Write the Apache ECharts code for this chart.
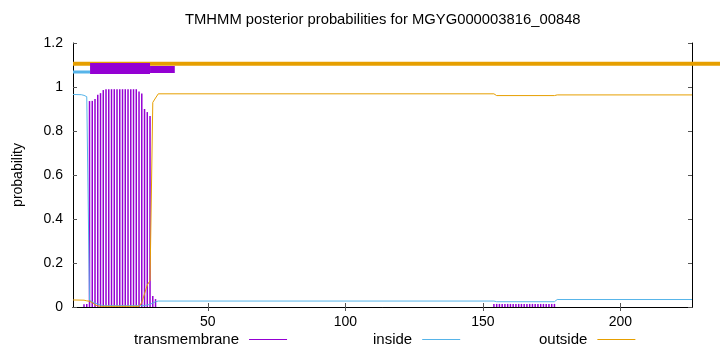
<!doctype html>
<html>
<head>
<meta charset="UTF-8">
<title>TMHMM posterior probabilities for MGYG000003816_00848</title>
<script src="https://cdn.jsdelivr.net/npm/echarts@6/dist/echarts.min.js"></script>
<style>
    html, body {margin: 0; padding: 0; background: #fff;}
    #main {width: 720px; height: 352px;}
</style>
</head>
<body>
<div id="main"></div>
<script type="text/javascript">
    // transmembrane posterior, one impulse per residue (near-zero ones left out)
    var tmResidue = [5, 6, 7, 8, 9, 10, 11, 12, 13, 14, 15, 16, 17, 18, 19, 20, 21, 22, 23, 24,
        25, 26, 27, 28, 29, 30, 31,
        154, 155, 156, 157, 158, 159, 160, 161, 162, 163, 164, 165, 166, 167, 168, 169, 170,
        171, 172, 173, 174, 175, 176];
    var tmProb = [0.012, 0.014, 0.936, 0.937, 0.946, 0.965, 0.972, 0.986, 0.99, 0.99, 0.99, 0.99,
        0.99, 0.99, 0.99, 0.99, 0.99, 0.99, 0.99, 0.99,
        0.98, 0.97, 0.90, 0.886, 0.868, 0.05, 0.036,
        0.014, 0.014, 0.014, 0.014, 0.014, 0.014, 0.014, 0.014, 0.014, 0.014, 0.014, 0.014, 0.014,
        0.014, 0.014, 0.014, 0.014, 0.014, 0.014, 0.014, 0.014, 0.014, 0.014];

    // inside / outside curves (break points of the drawn polyline)
    var insideRes = [1, 4, 5, 6, 7, 8, 9, 10, 11, 12, 26, 27, 28, 29, 30, 31, 32, 154, 155, 176, 177, 226];
    var insideProb = [0.966, 0.965, 0.962, 0.956, 0.03, 0.024, 0.018, 0.013, 0.009, 0.006, 0.006,
        0.007, 0.009, 0.012, 0.018, 0.024, 0.027, 0.027, 0.024, 0.024, 0.034, 0.034];
    var outsideRes = [1, 5, 6, 7, 8, 9, 10, 11, 25, 26, 27, 28, 29, 30, 31, 32, 154, 155, 176, 177, 226];
    var outsideProb = [0.032, 0.031, 0.028, 0.026, 0.02, 0.01, 0.005, 0.003, 0.003, 0.02, 0.06,
        0.1, 0.12, 0.93, 0.95, 0.969, 0.969, 0.961, 0.961, 0.964, 0.964];

    // predicted topology bars above the curves
    var outsideBarRes = [1, 237];
    var insideBarRes = [1, 7.2];
    var tmBarRes = [7.2, 29];
    var tmBar2Res = [29, 38];

    var xTicks = [50, 100, 150, 200];

    function zip(xs, ys) {
        var res = [];
        for (var i = 0; i < xs.length; i++) {
            res.push([xs[i], ys[i]]);
        }
        return res;
    }
    function flat(xs, y) {
        var res = [];
        for (var i = 0; i < xs.length; i++) {
            res.push([xs[i], y]);
        }
        return res;
    }

    var font = '"Liberation Sans", Arial, sans-serif';
    var myChart = echarts.init(document.getElementById('main'));

    function legendAt(name, left, color) {
        return {
            data: [{name: name, icon: 'rect', itemStyle: {color: color}}],
            left: left,
            top: 332,
            padding: 0,
            align: 'right',
            itemWidth: 38,
            itemHeight: 1,
            selectedMode: false,
            textStyle: {fontFamily: font, fontSize: 15, color: '#000', padding: [0, 5, 0, 0]}
        };
    }

    var option = {
        animation: false,
        title: {
            text: 'TMHMM posterior probabilities for MGYG000003816_00848',
            left: 185,
            top: 12,
            padding: 0,
            textStyle: {fontFamily: font, fontSize: 14.8, fontWeight: 'normal', color: '#000'}
        },
        legend: [
            legendAt('transmembrane', 134, '#9400d3'),
            legendAt('inside', 373, '#56b4e9'),
            legendAt('outside', 539, '#e69f00')
        ],
        grid: [
            {left: 73, right: 28, top: 43, bottom: 45},
            // same vertical band, running out to the right edge (the outside bar is not clipped)
            {left: 73, right: 0, top: 43, bottom: 45}
        ],
        xAxis: [{
            type: 'value',
            min: 1,
            max: 226,
            position: 'bottom',
            axisLine: {lineStyle: {color: '#000', width: 1}},
            axisTick: {inside: true, length: 4, customValues: xTicks, lineStyle: {color: '#555'}},
            axisLabel: {customValues: xTicks, margin: 8, color: '#000', fontFamily: font, fontSize: 14},
            splitLine: {show: false}
        }, {
            type: 'value',
            min: 1,
            max: 226,
            position: 'top',
            axisLine: {lineStyle: {color: '#000', width: 1}},
            axisTick: {inside: true, length: 4, customValues: xTicks, lineStyle: {color: '#555'}},
            axisLabel: {show: false},
            splitLine: {show: false}
        }, {
            type: 'value',
            gridIndex: 1,
            min: 1,
            max: 236.2,
            show: false
        }],
        yAxis: [{
            type: 'value',
            min: 0,
            max: 1.2,
            interval: 0.2,
            name: 'probability',
            nameLocation: 'middle',
            nameGap: 48,
            nameTextStyle: {fontFamily: font, fontSize: 14, color: '#000'},
            axisLine: {show: true, lineStyle: {color: '#000', width: 1}},
            axisTick: {show: true, inside: true, length: 4, lineStyle: {color: '#555'}},
            axisLabel: {margin: 10, color: '#000', fontFamily: font, fontSize: 14},
            splitLine: {show: false}
        }, {
            type: 'value',
            min: 0,
            max: 1.2,
            interval: 0.2,
            position: 'right',
            axisLine: {show: true, lineStyle: {color: '#000', width: 1}},
            axisTick: {show: true, inside: true, length: 4, lineStyle: {color: '#555'}},
            axisLabel: {show: false},
            splitLine: {show: false}
        }, {
            type: 'value',
            gridIndex: 1,
            min: 0,
            max: 1.2,
            show: false
        }],
        series: [
            {
                name: 'transmembrane',
                type: 'bar',
                data: zip(tmResidue, tmProb),
                barWidth: 1.5,
                itemStyle: {color: '#9400d3'},
                z: 2
            },
            {
                name: 'inside',
                type: 'line',
                data: zip(insideRes, insideProb),
                symbol: 'none',
                color: '#56b4e9',
                lineStyle: {width: 1, color: '#56b4e9'},
                z: 3
            },
            {
                name: 'outside',
                type: 'line',
                data: zip(outsideRes, outsideProb),
                symbol: 'none',
                color: '#e69f00',
                lineStyle: {width: 1, color: '#e69f00'},
                z: 3
            },
            {
                name: 'outside region',
                type: 'line',
                xAxisIndex: 2,
                yAxisIndex: 2,
                data: flat(outsideBarRes, 1.106),
                symbol: 'none',
                clip: false,
                lineStyle: {width: 4, color: '#e69f00'},
                z: 4
            },
            {
                name: 'inside region',
                type: 'line',
                data: flat(insideBarRes, 1.068),
                symbol: 'none',
                lineStyle: {width: 3, color: '#56b4e9'},
                z: 4
            },
            {
                name: 'tm region',
                type: 'line',
                data: flat(tmBarRes, 1.084),
                symbol: 'none',
                lineStyle: {width: 11, color: '#9400d3'},
                z: 5
            },
            {
                name: 'tm region 2',
                type: 'line',
                data: flat(tmBar2Res, 1.08),
                symbol: 'none',
                lineStyle: {width: 7, color: '#9400d3'},
                z: 5
            }
        ]
    };
    myChart.setOption(option);
</script>
</body>
</html>
